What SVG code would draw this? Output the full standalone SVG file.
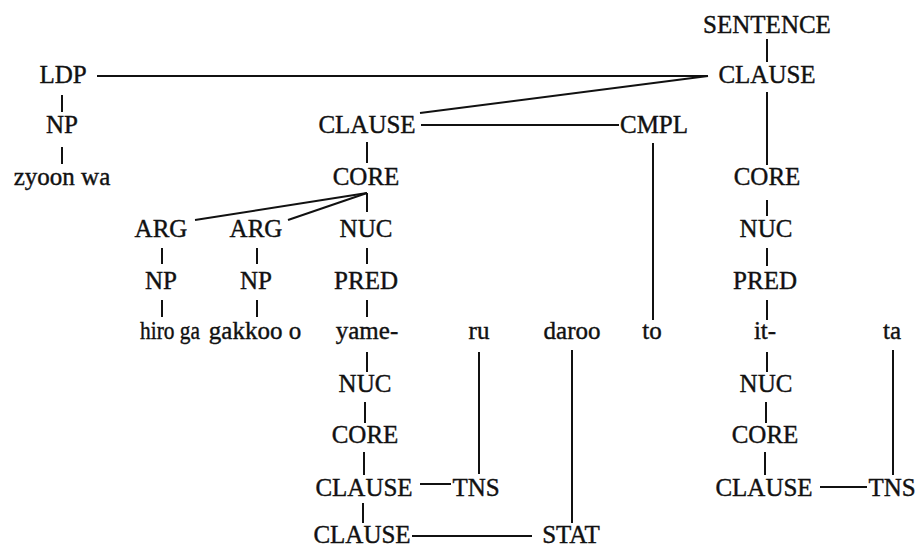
<svg xmlns="http://www.w3.org/2000/svg" width="919" height="549" viewBox="0 0 919 549">
<style>
text{font-family:"Liberation Serif","Times New Roman",serif;font-size:25px;fill:#111;stroke:#111;stroke-width:0.4;text-anchor:middle}
.c line{stroke:#111;stroke-width:2;fill:none}
</style>
<rect width="919" height="549" fill="#fff"/>
<g class="c" id="connectors">
<line x1="767" y1="39" x2="767" y2="62"/>
<line x1="97" y1="76" x2="708" y2="76"/>
<line x1="708" y1="76" x2="420" y2="113"/>
<line x1="421" y1="125" x2="619" y2="125"/>
<line x1="767" y1="92" x2="767" y2="165"/>
<line x1="653" y1="143" x2="653" y2="320"/>
<line x1="62" y1="95" x2="62" y2="112"/>
<line x1="62" y1="147" x2="62" y2="164"/>
<line x1="367" y1="142" x2="367" y2="163"/>
<line x1="367" y1="193" x2="195" y2="220"/>
<line x1="367" y1="193" x2="288" y2="220"/>
<line x1="367" y1="193" x2="367" y2="212"/>
<line x1="162" y1="248" x2="162" y2="264"/>
<line x1="257" y1="248" x2="257" y2="264"/>
<line x1="367" y1="248" x2="367" y2="264"/>
<line x1="162" y1="300" x2="162" y2="317"/>
<line x1="257" y1="300" x2="257" y2="317"/>
<line x1="367" y1="300" x2="367" y2="317"/>
<line x1="367" y1="352" x2="367" y2="372"/>
<line x1="365" y1="402" x2="365" y2="423"/>
<line x1="364" y1="452" x2="364" y2="475"/>
<line x1="363" y1="503" x2="363" y2="523"/>
<line x1="479" y1="352" x2="479" y2="474"/>
<line x1="572" y1="350" x2="572" y2="523"/>
<line x1="767" y1="200" x2="767" y2="216"/>
<line x1="767" y1="248" x2="767" y2="266"/>
<line x1="767" y1="300" x2="767" y2="320"/>
<line x1="767" y1="352" x2="767" y2="372"/>
<line x1="766" y1="402" x2="766" y2="423"/>
<line x1="765" y1="452" x2="765" y2="475"/>
<line x1="893" y1="350" x2="893" y2="475"/>
<line x1="420" y1="484" x2="451" y2="484"/>
<line x1="820" y1="487" x2="867" y2="487"/>
<line x1="412" y1="536" x2="532" y2="536"/>
</g>
<g id="sentence"><text x="767" y="33">SENTENCE</text></g>
<g id="clause-top"><text x="767" y="83">CLAUSE</text></g>
<g id="ldp"><text x="63" y="83">LDP</text></g>
<g id="np-ldp"><text x="62" y="133">NP</text></g>
<g id="zyoon-wa"><text x="62" y="185">zyoon wa</text></g>
<g id="clause-mid"><text x="367" y="133">CLAUSE</text></g>
<g id="cmpl"><text x="654" y="133">CMPL</text></g>
<g id="core-mid"><text x="366" y="185">CORE</text></g>
<g id="core-right"><text x="767" y="185">CORE</text></g>
<g id="arg1"><text x="161" y="237">ARG</text></g>
<g id="arg2"><text x="256" y="237">ARG</text></g>
<g id="nuc-mid"><text x="366" y="237">NUC</text></g>
<g id="nuc-right"><text x="766" y="237">NUC</text></g>
<g id="np1"><text x="161" y="289">NP</text></g>
<g id="np2"><text x="256" y="289">NP</text></g>
<g id="pred-mid"><text x="366" y="289">PRED</text></g>
<g id="pred-right"><text x="765" y="289">PRED</text></g>
<g id="hiro-ga"><text x="170" y="339" textLength="60" lengthAdjust="spacingAndGlyphs">hiro ga</text></g>
<g id="gakkoo-o"><text x="255" y="339">gakkoo o</text></g>
<g id="yame"><text x="367" y="339">yame-</text></g>
<g id="ru"><text x="479" y="339">ru</text></g>
<g id="daroo"><text x="572" y="339">daroo</text></g>
<g id="to"><text x="652" y="339">to</text></g>
<g id="it"><text x="765" y="339">it-</text></g>
<g id="ta"><text x="892" y="339">ta</text></g>
<g id="nuc-lower"><text x="365" y="392">NUC</text></g>
<g id="nuc-right-lower"><text x="766" y="392">NUC</text></g>
<g id="core-lower"><text x="365" y="443">CORE</text></g>
<g id="core-right-lower"><text x="765" y="443">CORE</text></g>
<g id="clause-lower"><text x="364" y="496">CLAUSE</text></g>
<g id="tns-mid"><text x="476" y="496">TNS</text></g>
<g id="clause-right-lower"><text x="764" y="496">CLAUSE</text></g>
<g id="tns-right"><text x="892" y="496">TNS</text></g>
<g id="clause-bottom"><text x="362" y="543">CLAUSE</text></g>
<g id="stat"><text x="571" y="543">STAT</text></g>
</svg>
